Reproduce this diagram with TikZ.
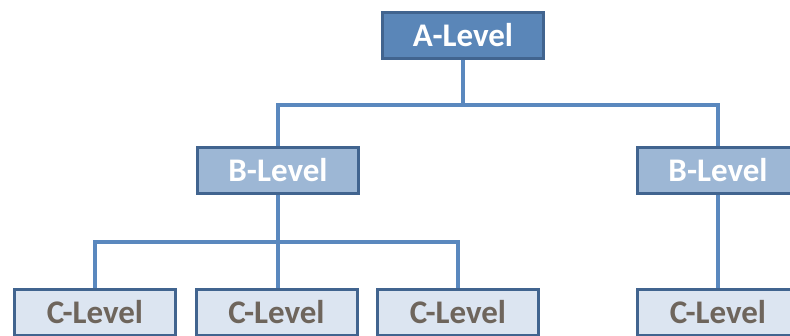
\documentclass[tikz,border=0pt]{standalone}
\usepackage{fontspec}
\setmainfont{Carlito}
\definecolor{boxline}{HTML}{41648F}
\definecolor{fillA}{HTML}{5A86B8}
\definecolor{fillB}{HTML}{9DB7D5}
\definecolor{fillC}{HTML}{DCE5F1}
\definecolor{textC}{HTML}{6E655C}
\definecolor{linkline}{HTML}{5A88BE}
\begin{document}
\begin{tikzpicture}[x=1pt,y=1pt,
		level/.style={draw=boxline, line width=3pt, minimum width=161pt, minimum height=46pt,
			inner sep=0pt, font=\fontsize{33}{33}\selectfont\bfseries},
		levelA/.style={level, fill=fillA, text=white},
		levelB/.style={level, fill=fillB, text=white},
		levelC/.style={level, fill=fillC, text=textC},
		link/.style={draw=linkline, line width=3.2pt}]
		\useasboundingbox (0,0) rectangle (790,-335);
		\node[levelA] (A) at (463,-35.5) {A-Level};
		\node[levelB] (B1) at (278,-170.5) {B-Level};
		\node[levelB] (B2) at (718,-170.5) {B-Level};
		\node[levelC] (C1) at (95,-312.5) {C-Level};
		\node[levelC] (C2) at (276.5,-312.5) {C-Level};
		\node[levelC] (C3) at (458,-312.5) {C-Level};
		\node[levelC] (C4) at (718,-312.5) {C-Level};
		\coordinate (busA) at (463,-105);
		\coordinate (busB) at (278,-242);
		% A to B
		\draw[link] (A) -- (busA);
		\draw[link] (B1.north) |- (busA) -| (B2.north);
		% B to C
		\draw[link] (B1) -- (busB);
		\draw[link] (C1.north) |- (busB) -| (C3.north);
		\draw[link] (busB) -- (busB |- C2.north);
		\draw[link] (B2) -- (C4);
	\end{tikzpicture}
\end{document}
